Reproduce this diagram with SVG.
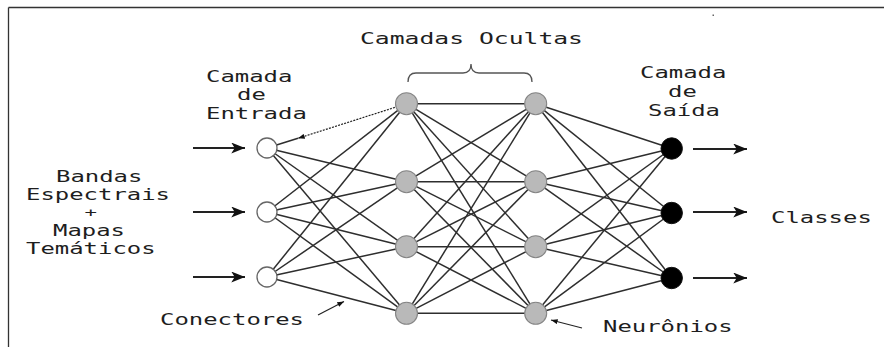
<svg xmlns="http://www.w3.org/2000/svg" width="884" height="347" viewBox="0 0 884 347">
<style>
.t{font-family:"DejaVu Sans Mono","Liberation Mono",monospace;font-size:16px;fill:#1e1e1e;}
.s{font-size:15px;}
.c{stroke:#2e2e2e;stroke-width:1.5;fill:none;}
.in{fill:#fff;stroke:#666;stroke-width:1.3;}
.hid{fill:#b9b9b9;stroke:#858585;stroke-width:1.1;}
.out{fill:#000;stroke:#111;stroke-width:1;}
.arr{stroke:#222;stroke-width:1.8;fill:none;}
.ptr{stroke:#222;stroke-width:1.2;fill:none;}
</style>
<defs>
<marker id="big" viewBox="0 0 10 8" refX="10" refY="4" markerWidth="14" markerHeight="11" markerUnits="userSpaceOnUse" orient="auto"><path d="M0,0 L10,4 L0,8 L2.5,4 z" fill="#111"/></marker>
<marker id="sm" viewBox="0 0 8 6" refX="8" refY="3" markerWidth="7" markerHeight="5" markerUnits="userSpaceOnUse" orient="auto"><path d="M0,0 L8,3 L0,6 z" fill="#111"/></marker>
</defs>
<rect width="884" height="347" fill="#fff"/>
<g id="frame" stroke="#333" stroke-width="1.3" fill="none">
<line x1="8.5" y1="7.5" x2="884" y2="7.5"/>
<line x1="8.5" y1="7.5" x2="8.5" y2="347"/>
</g>
<rect x="712.5" y="14.5" width="1.5" height="1.5" fill="#666"/>
<g id="connectors">
<g class="c">
<line x1="267" y1="148" x2="298" y2="138.3"/>
<line x1="267" y1="148" x2="406.5" y2="181.7"/>
<line x1="267" y1="148" x2="406.5" y2="246.7"/>
<line x1="267" y1="148" x2="406.5" y2="313.3"/>
<line x1="267" y1="212" x2="406.5" y2="103.7"/>
<line x1="267" y1="212" x2="406.5" y2="181.7"/>
<line x1="267" y1="212" x2="406.5" y2="246.7"/>
<line x1="267" y1="212" x2="406.5" y2="313.3"/>
<line x1="267" y1="277" x2="406.5" y2="103.7"/>
<line x1="267" y1="277" x2="406.5" y2="181.7"/>
<line x1="267" y1="277" x2="406.5" y2="246.7"/>
<line x1="267" y1="277" x2="406.5" y2="313.3"/>
<line x1="406.5" y1="103.7" x2="535.7" y2="103.7"/>
<line x1="406.5" y1="103.7" x2="535.7" y2="181.7"/>
<line x1="406.5" y1="103.7" x2="535.7" y2="246.7"/>
<line x1="406.5" y1="103.7" x2="535.7" y2="313.3"/>
<line x1="406.5" y1="181.7" x2="535.7" y2="103.7"/>
<line x1="406.5" y1="181.7" x2="535.7" y2="181.7"/>
<line x1="406.5" y1="181.7" x2="535.7" y2="246.7"/>
<line x1="406.5" y1="181.7" x2="535.7" y2="313.3"/>
<line x1="406.5" y1="246.7" x2="535.7" y2="103.7"/>
<line x1="406.5" y1="246.7" x2="535.7" y2="181.7"/>
<line x1="406.5" y1="246.7" x2="535.7" y2="246.7"/>
<line x1="406.5" y1="246.7" x2="535.7" y2="313.3"/>
<line x1="406.5" y1="313.3" x2="535.7" y2="103.7"/>
<line x1="406.5" y1="313.3" x2="535.7" y2="181.7"/>
<line x1="406.5" y1="313.3" x2="535.7" y2="246.7"/>
<line x1="406.5" y1="313.3" x2="535.7" y2="313.3"/>
<line x1="535.7" y1="103.7" x2="671.7" y2="148.5"/>
<line x1="535.7" y1="103.7" x2="671.7" y2="213"/>
<line x1="535.7" y1="103.7" x2="671.7" y2="278"/>
<line x1="535.7" y1="181.7" x2="671.7" y2="148.5"/>
<line x1="535.7" y1="181.7" x2="671.7" y2="213"/>
<line x1="535.7" y1="181.7" x2="671.7" y2="278"/>
<line x1="535.7" y1="246.7" x2="671.7" y2="148.5"/>
<line x1="535.7" y1="246.7" x2="671.7" y2="213"/>
<line x1="535.7" y1="246.7" x2="671.7" y2="278"/>
<line x1="535.7" y1="313.3" x2="671.7" y2="148.5"/>
<line x1="535.7" y1="313.3" x2="671.7" y2="213"/>
<line x1="535.7" y1="313.3" x2="671.7" y2="278"/>
</g>
<line x1="404" y1="104.5" x2="298" y2="138.3" stroke="#222" stroke-width="1.2" stroke-dasharray="2 1.2" marker-end="url(#sm)"/>
<line class="arr" x1="193" y1="148" x2="245" y2="148" marker-end="url(#big)"/>
<line class="arr" x1="193" y1="212" x2="245" y2="212" marker-end="url(#big)"/>
<line class="arr" x1="193" y1="277" x2="245" y2="277" marker-end="url(#big)"/>
<line class="arr" x1="693" y1="149" x2="747" y2="149" marker-end="url(#big)"/>
<line class="arr" x1="693" y1="212" x2="747" y2="212" marker-end="url(#big)"/>
<line class="arr" x1="693" y1="278" x2="747" y2="278" marker-end="url(#big)"/>
<line class="ptr" x1="318" y1="315" x2="344" y2="301.5" marker-end="url(#sm)"/>
<line class="ptr" x1="582" y1="328" x2="551" y2="320" marker-end="url(#sm)"/>
<path d="M408,82 Q408,73 416,73 L463,73 Q471,73 471,64 Q471,73 479,73 L524,73 Q532,73 532,82" stroke="#555" stroke-width="1.3" fill="none"/>
</g>
<g id="input-1"><circle class="in" cx="267" cy="148" r="10"/></g>
<g id="input-2"><circle class="in" cx="267" cy="212" r="10"/></g>
<g id="input-3"><circle class="in" cx="267" cy="277" r="10"/></g>
<g id="hidden1-1"><circle class="hid" cx="406.5" cy="103.7" r="11"/></g>
<g id="hidden1-2"><circle class="hid" cx="406.5" cy="181.7" r="11"/></g>
<g id="hidden1-3"><circle class="hid" cx="406.5" cy="246.7" r="11"/></g>
<g id="hidden1-4"><circle class="hid" cx="406.5" cy="313.3" r="11"/></g>
<g id="hidden2-1"><circle class="hid" cx="535.7" cy="103.7" r="11"/></g>
<g id="hidden2-2"><circle class="hid" cx="535.7" cy="181.7" r="11"/></g>
<g id="hidden2-3"><circle class="hid" cx="535.7" cy="246.7" r="11"/></g>
<g id="hidden2-4"><circle class="hid" cx="535.7" cy="313.3" r="11"/></g>
<g id="output-1"><circle class="out" cx="671.7" cy="148.5" r="10.7"/></g>
<g id="output-2"><circle class="out" cx="671.7" cy="213" r="10.7"/></g>
<g id="output-3"><circle class="out" cx="671.7" cy="278" r="10.7"/></g>
<g id="labels">
<text class="t" x="360" y="44" textLength="223" lengthAdjust="spacingAndGlyphs">Camadas Ocultas</text>
<text class="t" x="206" y="82" textLength="86.4" lengthAdjust="spacingAndGlyphs">Camada</text>
<text class="t" x="237" y="100" textLength="28.8" lengthAdjust="spacingAndGlyphs">de</text>
<text class="t" x="206" y="118.5" textLength="100.8" lengthAdjust="spacingAndGlyphs">Entrada</text>
<text class="t s" x="56" y="181.5" textLength="86.4" lengthAdjust="spacingAndGlyphs">Bandas</text>
<text class="t s" x="26" y="199.5" textLength="144" lengthAdjust="spacingAndGlyphs">Espectrais</text>
<text class="t" x="84.5" y="216.5" style="font-size:13px" textLength="12.5" lengthAdjust="spacingAndGlyphs">+</text>
<text class="t s" x="53" y="235.5" textLength="72" lengthAdjust="spacingAndGlyphs">Mapas</text>
<text class="t s" x="26" y="253.5" textLength="129.6" lengthAdjust="spacingAndGlyphs">Temáticos</text>
<text class="t" x="160" y="325" textLength="144" lengthAdjust="spacingAndGlyphs">Conectores</text>
<text class="t" x="603" y="331.5" textLength="129.6" lengthAdjust="spacingAndGlyphs">Neurônios</text>
<text class="t" x="771" y="223" textLength="100.8" lengthAdjust="spacingAndGlyphs">Classes</text>
<text class="t" x="640" y="77.5" textLength="86.4" lengthAdjust="spacingAndGlyphs">Camada</text>
<text class="t" x="668" y="97" textLength="28.8" lengthAdjust="spacingAndGlyphs">de</text>
<text class="t" x="648" y="116" textLength="72" lengthAdjust="spacingAndGlyphs">Saída</text>
</g>
</svg>
